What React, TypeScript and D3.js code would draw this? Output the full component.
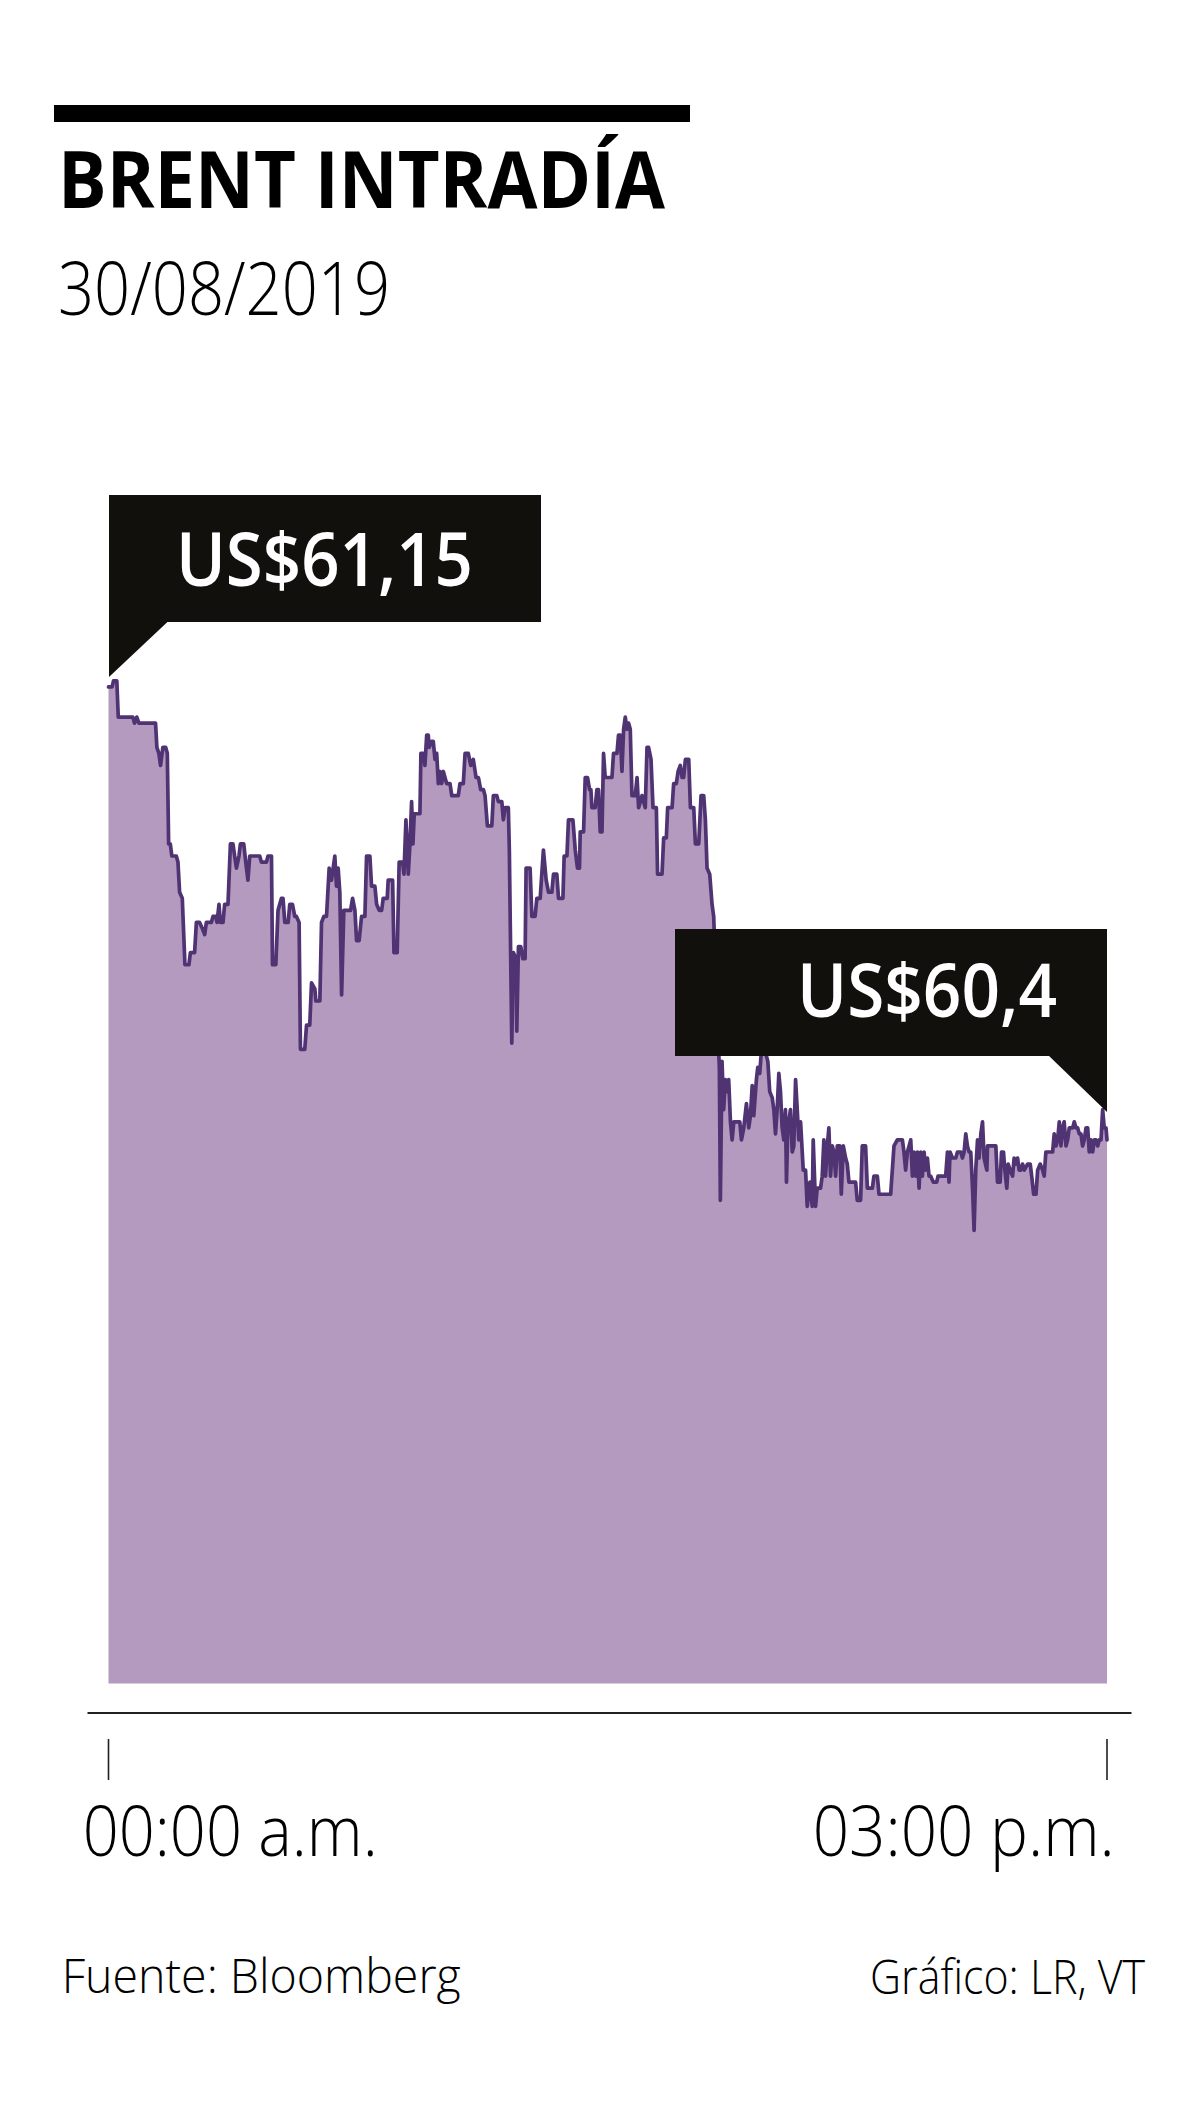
import React from "react";
import * as d3 from "d3";

// Time of day in minutes after 00:00 (axis runs 00:00 a.m. -> 03:00 p.m. as drawn)
const minutes: number[] = [
  0, 3.3, 4.5, 7.5, 8.8, 21.9, 23.5, 25.5, 27.4, 42.4, 43.6, 45.4, 46.9, 49, 51.5, 53, 54.2, 55.7, 57.1, 61.1,
  62.6, 64.1, 66.5, 68.9, 72.5, 73.8, 77.6, 79.2, 82.1, 84.6, 86.7, 88.2, 92.7, 94.2, 96.6, 97.8, 99.6, 100.8, 103.2, 104.7,
  107.7, 109.9, 112.2, 113.7, 115.3, 117.6, 118.9, 121.9, 123.7, 125.7, 127.3, 129.7, 136.3, 137.8, 142.4, 143.8, 146.9, 147.8, 150.8, 152.8,
  155.9, 157.3, 158.9, 161.9, 163.4, 165.8, 167.9, 169.4, 171.8, 173, 176.9, 178.5, 181.4, 183, 186, 186.9, 190.5, 192, 194.1, 196.5,
  198.9, 201, 204, 205.5, 207, 208.5, 210.1, 212.1, 218.2, 220, 222.1, 223.6, 225.9, 228.1, 231.1, 232.6, 235.6, 237.1, 240.1, 241.7,
  244, 246.2, 247.6, 251.2, 252.1, 256.1, 257.3, 260.2, 262, 265.1, 266.3, 268.1, 270.2, 271.7, 273.2, 274.4, 275.6, 280.7, 281.6, 283.7,
  285.2, 286.8, 288.2, 289.1, 291.3, 292.7, 294.3, 295.8, 297.3, 298.8, 300.3, 301.8, 303.3, 304.8, 307.8, 309.4, 315.3, 316.8, 319.8, 321.4,
  324.3, 326.5, 328.8, 331.3, 333.4, 335.5, 337.9, 339.4, 341.5, 345.5, 346.9, 350, 351.4, 354.5, 355.9, 357.5, 360.4, 361.3, 363.5, 365,
  367.4, 368, 369.5, 371.6, 373.4, 375.5, 376.4, 380, 381.6, 384.5, 386.1, 389.1, 392, 394.5, 396.6, 399.6, 401.1, 404.1, 405.6, 409.6,
  410.7, 413.2, 414.6, 418.6, 420.7, 422.7, 424.5, 425.2, 428.2, 429.7, 431.8, 433.6, 434.8, 435.7, 438.7, 440.2, 441.7, 443.2, 444.8, 446.2,
  447.7, 453.8, 455.2, 458.3, 459.7, 461.3, 462.8, 464.3, 465.8, 467.3, 468.8, 470.3, 471.8, 474.8, 476.4, 477.8, 480.9, 483.8, 485.4, 486.8,
  489, 490.8, 493.8, 494.9, 498.9, 500.4, 502.8, 504, 508, 509.4, 511.8, 513.4, 515.4, 517, 518.4, 520, 523, 524.5, 527.5, 529,
  532, 534.1, 536.5, 538, 539.5, 541.9, 544, 545.5, 548, 550.6, 551.5, 553, 554.5, 556, 557.6, 559, 560.6, 562.1, 563.6, 569,
  570.5, 572.6, 575, 577.1, 578.6, 580.2, 581.6, 584, 585.2, 587, 588.6, 591.3, 594.3, 596, 598.2, 599.7, 601.2, 602.7, 604.2, 605.7,
  607.2, 608.7, 610.2, 611.1, 612.3, 614.7, 616.3, 617.7, 619.3, 620.8, 622.2, 623.8, 626.2, 628.3, 629.8, 632.2, 634.3, 635.2, 637.3, 638.8,
  641.8, 643.3, 644.8, 646.3, 647.9, 649.3, 650.8, 652.4, 653.8, 655.4, 656.9, 659.2, 660.5, 662.3, 664.4, 665.9, 667.4, 673.4, 674.9, 677.9,
  679.4, 682.4, 684, 688.5, 689.9, 693, 694.5, 705, 708, 711, 715.6, 717, 718.5, 720.1, 723.1, 724.6, 726, 727.6, 729.1, 730.6,
  732.1, 733.6, 735.1, 736.6, 738.1, 739.6, 741.1, 743.5, 746.5, 747.7, 754.6, 756.2, 757.6, 758.5, 760.7, 763.7, 765.2, 768.2, 769.7, 771.2,
  772.7, 774.2, 775.7, 777.2, 778.8, 780.2, 781.7, 783.3, 784.7, 786.3, 787.8, 789.2, 791.7, 792.3, 799.8, 801.3, 803.7, 804.9, 806.7, 807.9,
  809.7, 810.9, 812.7, 814.9, 816.3, 817.9, 819.4, 820.8, 822.4, 823.9, 825.4, 828.4, 830.8, 832.1, 833.9, 836, 837.5, 839.8, 842, 843.4,
  844.9, 849.4, 851, 852.4, 854, 855.5, 857, 858.5, 860, 861.4, 863, 864.5, 866, 869.1, 870.5, 872, 873.5, 875, 876.5, 878,
  879.5, 881.1, 882.6, 884, 885.5, 887.1, 888.5, 890, 891.6, 893, 894.6, 896.1, 897.5, 899.1, 900,
];

// Brent price, US$ per barrel
const prices: number[] = [
  61.15, 61.15, 61.16, 61.16, 61.10, 61.10, 61.09, 61.10, 61.09, 61.09, 61.05, 61.04, 61.02, 61.05, 61.05, 61.04, 60.89, 60.89, 60.87, 60.87,
  60.86, 60.81, 60.80, 60.69, 60.69, 60.71, 60.71, 60.76, 60.76, 60.75, 60.74, 60.76, 60.76, 60.77, 60.77, 60.76, 60.79, 60.76, 60.76, 60.79,
  60.79, 60.89, 60.89, 60.87, 60.85, 60.87, 60.89, 60.89, 60.86, 60.83, 60.87, 60.87, 60.87, 60.86, 60.86, 60.87, 60.87, 60.69, 60.69, 60.78,
  60.80, 60.80, 60.76, 60.76, 60.79, 60.79, 60.77, 60.77, 60.76, 60.55, 60.55, 60.59, 60.59, 60.66, 60.65, 60.63, 60.63, 60.76, 60.77, 60.77,
  60.85, 60.83, 60.87, 60.82, 60.85, 60.81, 60.64, 60.78, 60.78, 60.80, 60.78, 60.73, 60.73, 60.77, 60.77, 60.87, 60.87, 60.82, 60.82, 60.79,
  60.78, 60.78, 60.80, 60.80, 60.83, 60.83, 60.71, 60.71, 60.86, 60.86, 60.84, 60.93, 60.84, 60.89, 60.96, 60.89, 60.94, 60.94, 61.04, 61.04,
  61.02, 61.07, 61.07, 61.05, 61.06, 61.06, 61.03, 61.04, 60.99, 61.01, 60.99, 61.01, 61.00, 60.99, 60.99, 60.97, 60.97, 60.99, 60.99, 61.04,
  61.04, 61.02, 61.03, 61.00, 61.00, 60.98, 60.98, 60.97, 60.92, 60.92, 60.97, 60.97, 60.96, 60.96, 60.93, 60.95, 60.95, 60.88, 60.56, 60.71,
  60.70, 60.58, 60.72, 60.72, 60.70, 60.70, 60.85, 60.85, 60.77, 60.77, 60.80, 60.80, 60.88, 60.83, 60.81, 60.81, 60.84, 60.84, 60.80, 60.80,
  60.87, 60.87, 60.93, 60.93, 60.88, 60.85, 60.85, 60.91, 60.91, 61.00, 61.00, 60.98, 60.98, 60.95, 60.95, 60.98, 60.98, 60.91, 60.91, 61.04,
  61.00, 61.00, 61.04, 61.04, 61.07, 61.07, 61.01, 61.08, 61.10, 61.08, 61.09, 61.08, 60.97, 60.97, 61.00, 60.95, 60.97, 60.95, 61.05, 61.05,
  61.03, 60.95, 60.95, 60.84, 60.84, 60.90, 60.90, 60.95, 60.95, 60.99, 60.99, 61.01, 61.02, 61.00, 61.00, 61.03, 61.03, 60.95, 60.95, 60.89,
  60.89, 60.97, 60.97, 60.93, 60.85, 60.84, 60.79, 60.77, 60.63, 60.52, 60.30, 60.53, 60.45, 60.50, 60.48, 60.50, 60.43, 60.40, 60.43, 60.43,
  60.40, 60.42, 60.46, 60.42, 60.44, 60.49, 60.44, 60.50, 60.52, 60.51, 60.55, 60.55, 60.53, 60.48, 60.47, 60.45, 60.41, 60.45, 60.51, 60.48,
  60.42, 60.40, 60.45, 60.33, 60.42, 60.45, 60.38, 60.39, 60.50, 60.45, 60.40, 60.43, 60.35, 60.35, 60.29, 60.33, 60.29, 60.40, 60.29, 60.32,
  60.32, 60.34, 60.40, 60.34, 60.39, 60.42, 60.34, 60.39, 60.38, 60.34, 60.39, 60.39, 60.31, 60.39, 60.37, 60.36, 60.33, 60.33, 60.30, 60.30,
  60.39, 60.39, 60.32, 60.32, 60.34, 60.34, 60.31, 60.31, 60.39, 60.40, 60.40, 60.38, 60.35, 60.38, 60.40, 60.34, 60.38, 60.34, 60.38, 60.32,
  60.38, 60.34, 60.38, 60.35, 60.37, 60.34, 60.34, 60.33, 60.33, 60.34, 60.34, 60.38, 60.33, 60.38, 60.37, 60.37, 60.38, 60.38, 60.37, 60.38,
  60.41, 60.39, 60.38, 60.38, 60.32, 60.25, 60.35, 60.40, 60.37, 60.41, 60.43, 60.37, 60.35, 60.39, 60.39, 60.33, 60.33, 60.38, 60.38, 60.35,
  60.32, 60.36, 60.35, 60.34, 60.37, 60.36, 60.37, 60.35, 60.35, 60.36, 60.35, 60.36, 60.36, 60.34, 60.31, 60.31, 60.35, 60.36, 60.35, 60.34,
  60.38, 60.38, 60.38, 60.41, 60.39, 60.40, 60.43, 60.39, 60.42, 60.43, 60.39, 60.40, 60.42, 60.42, 60.43, 60.42, 60.42, 60.41, 60.41, 60.39,
  60.40, 60.42, 60.42, 60.38, 60.40, 60.38, 60.40, 60.40, 60.39, 60.40, 60.40, 60.45, 60.42, 60.42, 60.40,
];

const TITLE = "BRENT INTRADÍA";
const DATE_LABEL = "30/08/2019";
const OPEN_LABEL = "US$61,15";
const CLOSE_LABEL = "US$60,4";
const TICK_LABELS = ["00:00 a.m.", "03:00 p.m."];
const TICK_MINUTES = [0, 900];
const SOURCE = "Fuente: Bloomberg";
const CREDIT = "Gráfico: LR, VT";

const FONT = "'Open Sans', 'Noto Sans', 'DejaVu Sans', sans-serif";
const FILL = "#b49abe";
const LINE = "#4f3373";
const BOX = "#12100c";

export default function App() {
  const data = minutes.map((m, i) => ({ m, p: prices[i] }));
  const x = d3.scaleLinear().domain([0, 900]).range([108.5, 1107]);
  const y = d3.scaleLinear().domain([59.5, 61.3]).range([1683.5, 1683.5 - 1.8 * 604]);

  const area = d3
    .area<{ m: number; p: number }>()
    .x((d) => x(d.m))
    .y0(y(59.5))
    .y1((d) => y(d.p));
  const line = d3
    .line<{ m: number; p: number }>()
    .x((d) => x(d.m))
    .y((d) => y(d.p));

  return (
    <div style={{ position: "absolute", left: 0, top: 0 }}>
      <svg width={1200} height={2104} viewBox="0 0 1200 2104" style={{ display: "block", background: "#fff" }}>
        <rect x={54} y={105} width={636} height={17} fill="#000" />
        <text x={58} y={208} fontFamily={FONT} fontWeight={700} fontSize={79} textLength={607} lengthAdjust="spacingAndGlyphs" fill="#000">
          {TITLE}
        </text>
        <text x={58} y={315} fontFamily={FONT} fontWeight={300} fontSize={74} textLength={332} lengthAdjust="spacingAndGlyphs" fill="#000">
          {DATE_LABEL}
        </text>

        <path d={area(data) || ""} fill={FILL} />
        <path d={line(data) || ""} fill="none" stroke={LINE} strokeWidth={3.7} strokeLinejoin="round" strokeLinecap="round" />

        {/* opening annotation */}
        <rect x={109} y={495} width={432} height={127} fill={BOX} />
        <polygon points={`109,621 168.5,621 109,677`} fill={BOX} />
        <text x={176} y={586} fontFamily={FONT} fontWeight={600} fontSize={74} textLength={297} lengthAdjust="spacingAndGlyphs" fill="#fff">
          {OPEN_LABEL}
        </text>

        {/* closing annotation */}
        <rect x={675} y={929} width={432} height={127} fill={BOX} />
        <polygon points={`1048,1055 1107,1055 1107,1112`} fill={BOX} />
        <text x={797} y={1017} fontFamily={FONT} fontWeight={600} fontSize={74} textLength={260} lengthAdjust="spacingAndGlyphs" fill="#fff">
          {CLOSE_LABEL}
        </text>

        {/* axis */}
        <line x1={87.5} x2={1131.5} y1={1713} y2={1713} stroke="#231f20" strokeWidth={2.2} />
        {TICK_MINUTES.map((t) => (
          <line key={t} x1={x(t)} x2={x(t)} y1={1739} y2={1780} stroke="#231f20" strokeWidth={1.6} />
        ))}
        <text x={82.7} y={1855.5} fontFamily={FONT} fontWeight={300} fontSize={70} textLength={295} lengthAdjust="spacingAndGlyphs" fill="#000">
          {TICK_LABELS[0]}
        </text>
        <text x={812.7} y={1855.5} fontFamily={FONT} fontWeight={300} fontSize={70} textLength={302} lengthAdjust="spacingAndGlyphs" fill="#000">
          {TICK_LABELS[1]}
        </text>

        <text x={61.7} y={1993} fontFamily={FONT} fontWeight={300} fontSize={48} textLength={399} lengthAdjust="spacingAndGlyphs" fill="#000">
          {SOURCE}
        </text>
        <text x={870} y={1994} fontFamily={FONT} fontWeight={300} fontSize={48} textLength={275} lengthAdjust="spacingAndGlyphs" fill="#000">
          {CREDIT}
        </text>
      </svg>
    </div>
  );
}
